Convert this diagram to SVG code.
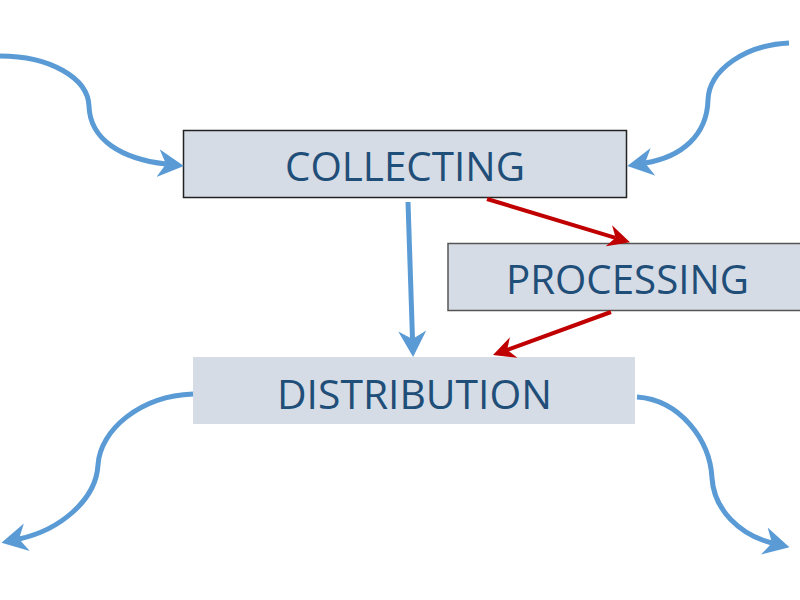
<svg xmlns="http://www.w3.org/2000/svg" width="800" height="600" viewBox="0 0 800 600">
<style>
.box{fill:#D6DCE5}
.lbl{font-family:"Open Sans","Noto Sans",sans-serif;font-size:40px;fill:#1F4E79;text-anchor:middle}
.blue{fill:none;stroke:#5B9BD5;stroke-width:5}
.red{fill:none;stroke:#C00000;stroke-width:4}
</style>
<defs>
<marker id="ab" viewBox="0 0 26 30" refX="8" refY="15" markerWidth="26" markerHeight="30" markerUnits="userSpaceOnUse" orient="auto">
<path d="M0,1 L26,15 L0,29 L8,15 Z" fill="#5B9BD5"/>
</marker>
<marker id="ar" viewBox="0 0 22 24" refX="7" refY="12" markerWidth="22" markerHeight="24" markerUnits="userSpaceOnUse" orient="auto">
<path d="M0,1 L22,12 L0,23 L7,12 Z" fill="#C00000"/>
</marker>
</defs>
<rect width="800" height="600" fill="#fff"/>
<g id="collecting">
<rect class="box" x="183.5" y="130.5" width="443" height="67" stroke="#222" stroke-width="1.5"/>
<text class="lbl" x="405" y="181" textLength="240" lengthAdjust="spacingAndGlyphs">COLLECTING</text>
</g>
<g id="processing">
<rect class="box" x="448" y="243.5" width="360" height="67" stroke="#555" stroke-width="1.5"/>
<text class="lbl" x="627.5" y="294" textLength="243" lengthAdjust="spacingAndGlyphs">PROCESSING</text>
</g>
<g id="distribution">
<rect class="box" x="193" y="357" width="442" height="67"/>
<text class="lbl" x="414.5" y="409" textLength="275" lengthAdjust="spacingAndGlyphs">DISTRIBUTION</text>
</g>
<g id="connectors">
<path class="blue" d="M0,56 C50,56 88,78 89,106 C90,140 122,159 166,164" marker-end="url(#ab)"/>
<path class="blue" d="M789,43 C745,45 709,70 708,100 C707,135 682,157 645,163" marker-end="url(#ab)"/>
<path class="blue" d="M193,394 C140,396 100,430 98,465 C96,500 60,530 19,539" marker-end="url(#ab)"/>
<path class="blue" d="M637,397 C680,400 710,440 712,478 C714,510 740,535 772,543" marker-end="url(#ab)"/>
<path class="blue" stroke-width="4" d="M408,202 L412.5,339" marker-end="url(#ab)"/>
<path class="red" d="M487,199 L615.6,237.8" marker-end="url(#ar)"/>
<path class="red" d="M611,312 L507.1,349.9" marker-end="url(#ar)"/>
</g>
</svg>
